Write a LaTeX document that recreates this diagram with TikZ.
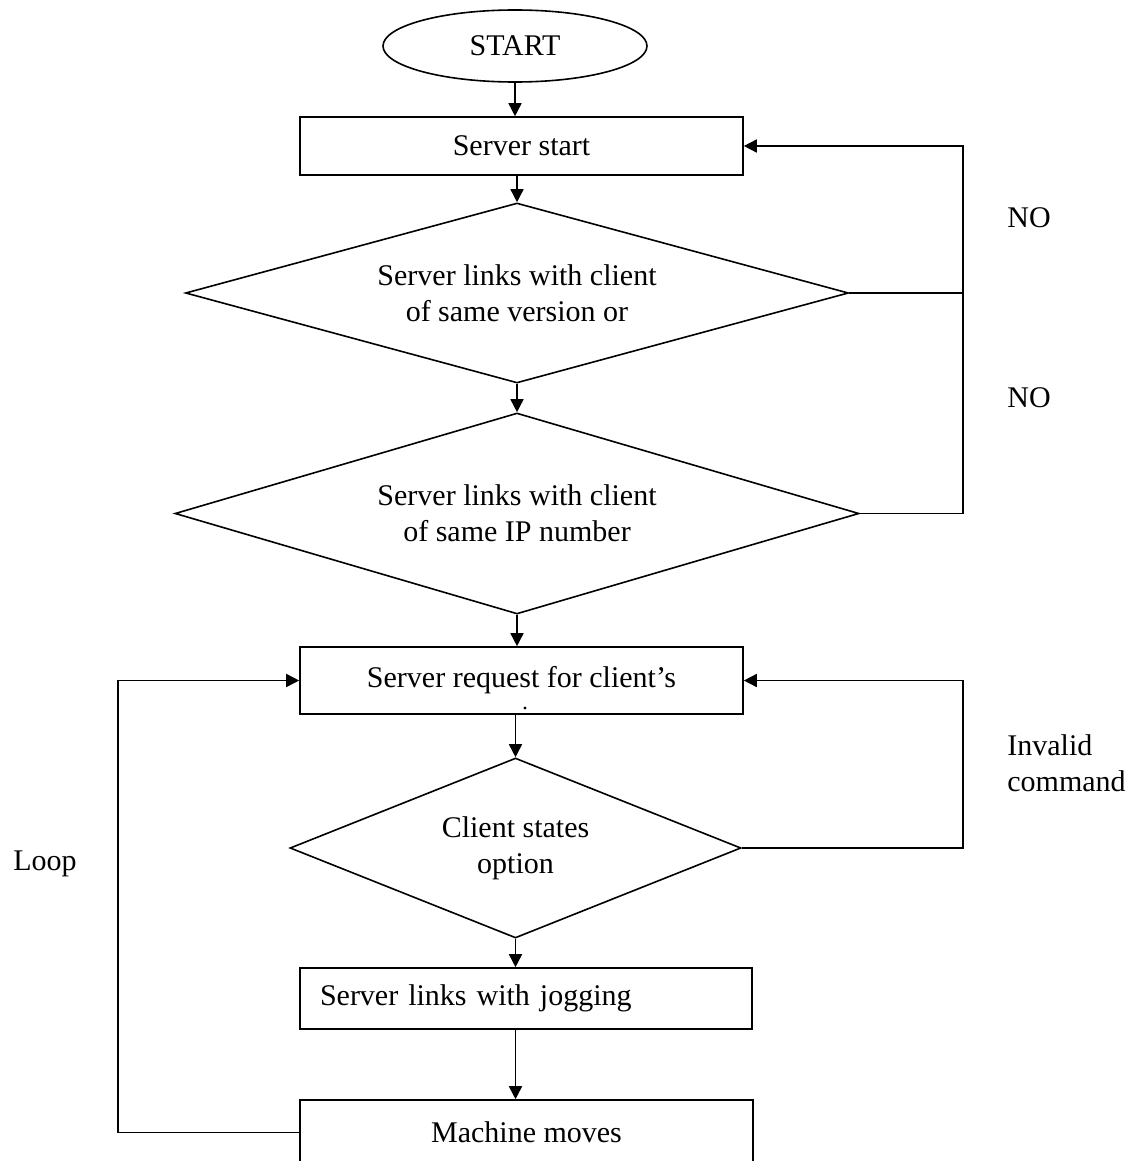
\documentclass[tikz,border=0pt]{standalone}
\usepackage{fontspec}
\setmainfont{Liberation Serif}
\usetikzlibrary{shapes.geometric,arrows.meta}
\begin{document}
\begin{tikzpicture}[x=0.5pt,y=-0.5pt,
  every node/.style={font=\fontsize{15}{18}\selectfont},
  line/.style={line width=0.8pt},
  arr/.style={line width=0.8pt,-{Triangle[length=6.5pt,width=6.5pt]}},
  procbox/.style={draw,line width=0.8pt,rectangle,inner sep=0pt},
  decision/.style={draw,line width=0.8pt,diamond,inner sep=0pt,align=center},
  label/.style={anchor=west,inner sep=0pt,align=left}]
\useasboundingbox[fill=white] (0,0) rectangle (1147,1161);
% nodes
\node[draw,line width=0.8pt,ellipse,minimum width=132pt,minimum height=36pt,inner sep=0pt] (st) at (515,46) {START};
\node[procbox,minimum width=221.5pt,minimum height=29pt] (ss) at (521.5,146) {Server start};
\node[decision,aspect=3.68,minimum width=331.5pt,minimum height=90pt] (d1) at (517,293) {Server links with client\\of same version or};
\node[decision,aspect=3.4,minimum width=342pt,minimum height=100.5pt] (d2) at (517,513.5) {Server links with client\\of same IP number};
\node[procbox,minimum width=221.5pt,minimum height=33.5pt] (req) at (521.5,680.5) {Server request for client’s};
\node[circle,fill,inner sep=0pt,minimum size=1.6pt] (dot) at (525,708) {};
\node[decision,aspect=2.5,minimum width=225.5pt,minimum height=90pt] (d3) at (515.5,848) {Client states\\option};
\node[procbox,minimum width=226pt,minimum height=30.5pt,text width=206pt,align=left,inner xsep=10pt] (jog) at (526,998.5) {Server links with jogging};
\node[procbox,minimum width=226.5pt,minimum height=32.5pt] (mm) at (526.5,1132.5) {Machine moves};
% labels
\node[label] (no1) at (1007,218) {NO};
\node[label] (no2) at (1007,398) {NO};
\node[label] (inv) at (1007,763) {Invalid\\command};
\node[label] (loop) at (13,864) {Loop};
\coordinate (rx) at (963,0);
\coordinate (lx) at (118,0);
% connectors
\draw[arr] (st.south) -- (st.south |- ss.north);
\draw[arr] (d1.north |- ss.south) -- (d1.north);
\draw[arr] (d1.south) -- (d2.north);
\draw[arr] (d2.south) -- (d2.south |- req.north);
\draw[arr] (d3.north |- req.south) -- (d3.north);
\draw[arr] (d3.south) -- (d3.south |- jog.north);
\draw[arr] (d3.south |- jog.south) -- (d3.south |- mm.north);
\draw[line] (d1.east) -- (d1.east -| rx);
\draw[arr] (d2.east) -- (d2.east -| rx) |- (ss.east);
\draw[arr] (d3.east) -- (d3.east -| rx) |- (req.east);
\draw[arr] (mm.west) -- (mm.west -| lx) |- (req.west);
\end{tikzpicture}
\end{document}
